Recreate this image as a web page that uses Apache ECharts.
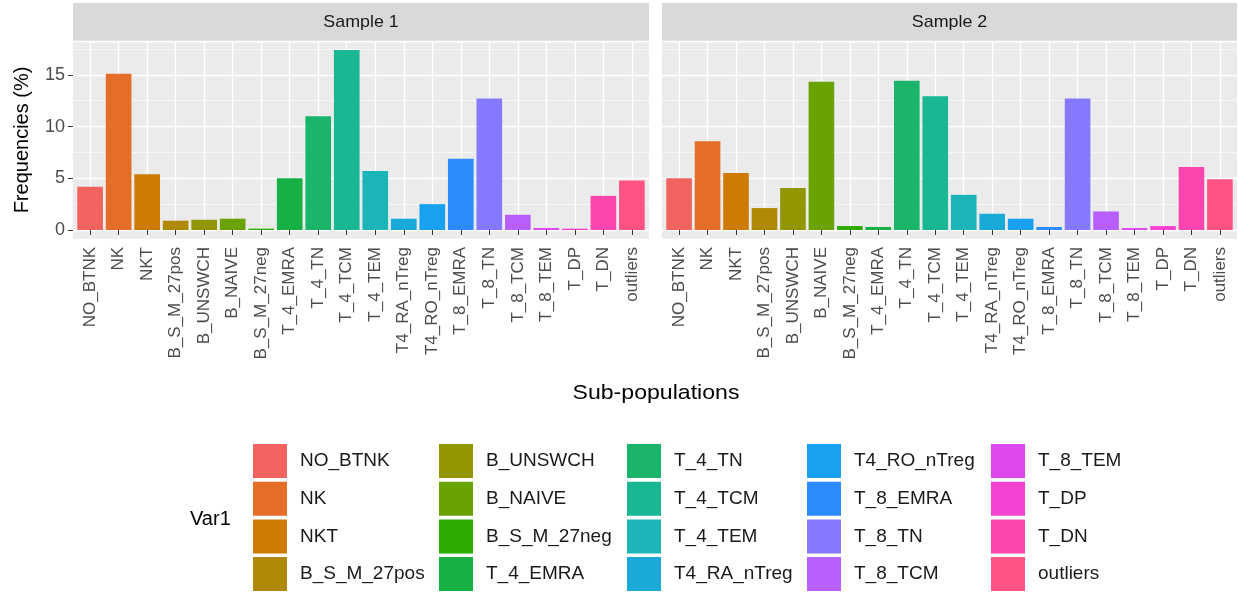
<!DOCTYPE html>
<html><head><meta charset="utf-8">
<script src="https://cdn.jsdelivr.net/npm/echarts@6/dist/echarts.min.js"></script>
<style>html,body{margin:0;padding:0;background:#fff}#c{width:1238px;height:592px}</style>
</head><body><div id="c"></div>
<script>
// ---- data ----
const categories = ['NO_BTNK','NK','NKT','B_S_M_27pos','B_UNSWCH','B_NAIVE','B_S_M_27neg','T_4_EMRA','T_4_TN','T_4_TCM','T_4_TEM','T4_RA_nTreg','T4_RO_nTreg','T_8_EMRA','T_8_TN','T_8_TCM','T_8_TEM','T_DP','T_DN','outliers'];
const sample1 = [4.17, 15.1, 5.38, 0.9, 0.99, 1.09, 0.13, 5.0, 11.0, 17.4, 5.7, 1.09, 2.5, 6.89, 12.72, 1.47, 0.19, 0.13, 3.3, 4.78];
const sample2 = [5.0, 8.59, 5.51, 2.12, 4.07, 14.33, 0.38, 0.29, 14.42, 12.92, 3.4, 1.57, 1.09, 0.29, 12.72, 1.79, 0.19, 0.38, 6.09, 4.9];
const facetNames = ['Sample 1', 'Sample 2'];
const colors = ['#F2625F','#E46D27','#CD7B03','#B08904','#929600','#6AA203','#2EAA00','#17B045','#1AB56B','#19B792','#1BB5B8','#19AAD8','#17A1EF','#2C8CFE','#857AFF','#B75EFD','#DD47EE','#F342D2','#FC45AF','#FF5384'];
const yMin = -0.87, yMax = 18.27;

// ---- layout ----
const FONT = '"Liberation Sans", Arial, sans-serif';
const TOP = 41, H = 198;
const panels = [{left: 73, width: 576}, {left: 662, width: 575}];
const values = [sample1, sample2];

const grids = [], xAxes = [], yAxes = [], series = [], graphics = [];
panels.forEach((p, s) => {
  const unit = p.width / 20.2;
  grids.push({left: p.left, top: TOP, width: p.width, height: H, show: true, backgroundColor: '#EBEBEB', borderWidth: 0, containLabel: false});
  grids.push({left: p.left + 0.1 * unit, top: TOP, width: p.width - 0.2 * unit, height: H, show: false, containLabel: false});
  const go = s * 2, gi = s * 2 + 1;
  xAxes.push({gridIndex: go, type: 'value', min: 0, max: 1, show: false});
  xAxes.push({
    gridIndex: gi, type: 'category', data: categories,
    axisLine: {show: false},
    axisTick: {show: true, alignWithLabel: true, length: 5, lineStyle: {color: '#333333', width: 1}},
    axisLabel: {rotate: 90, margin: 8, fontSize: 17, color: '#4D4D4D', fontFamily: FONT, interval: 0},
    splitLine: {show: true, alignWithLabel: true, lineStyle: {color: '#FFFFFF', width: 1.3}}
  });
  yAxes.push({
    gridIndex: go, type: 'value', min: yMin, max: yMax, splitNumber: 4,
    axisLine: {show: false},
    axisTick: {show: s === 0, length: 5, lineStyle: {color: '#333333', width: 1}},
    axisLabel: {show: s === 0, showMinLabel: false, showMaxLabel: false, fontSize: 18, color: '#4D4D4D', fontFamily: FONT, margin: 8},
    splitLine: {show: true, lineStyle: {color: '#FFFFFF', width: 1.3}},
    minorTick: {show: false, splitNumber: 2},
    minorSplitLine: {show: true, lineStyle: {color: '#FFFFFF', width: 0.6}},
    name: s === 0 ? 'Frequencies (%)' : '', nameLocation: 'middle', nameRotate: 90, nameGap: 41,
    nameTextStyle: {fontSize: 20, color: '#000000', fontFamily: FONT}
  });
  yAxes.push({gridIndex: gi, type: 'value', min: yMin, max: yMax, show: false});
  categories.forEach((c, i) => {
    series.push({
      type: 'bar', name: c, xAxisIndex: gi, yAxisIndex: gi, stack: 'st' + s,
      barWidth: '90%',
      itemStyle: {color: colors[i]},
      emphasis: {disabled: true},
      data: categories.map((cc, j) => j === i ? values[s][i] : '-')
    });
  });
  graphics.push({type: 'rect', left: p.left, top: 3, shape: {width: p.width, height: TOP - 3}, style: {fill: '#D9D9D9'}, z: 0});
  graphics.push({type: 'text', x: p.left + p.width / 2, y: 3 + (TOP - 3) / 2, scaleX: 1.05, style: {text: facetNames[s], fontSize: 17, fill: '#1A1A1A', fontFamily: FONT, align: 'center', verticalAlign: 'middle'}, z: 1});
});

graphics.push({type: 'text', x: 656, y: 393, scaleX: 1.1, style: {text: 'Sub-populations', fontSize: 21, fill: '#000000', fontFamily: FONT, align: 'center', verticalAlign: 'middle'}});
graphics.push({type: 'text', x: 190, y: 519, style: {text: 'Var1', fontSize: 20, fill: '#000000', fontFamily: FONT, align: 'left', verticalAlign: 'middle'}});

// legend: 5 columns of 4 keys
const legendCols = [253, 439, 627, 807, 991];
const legends = legendCols.map((x, k) => ({
  orient: 'vertical', left: x, top: 444, height: 150, padding: 0,
  itemWidth: 34, itemHeight: 34, itemGap: 3.7, icon: 'rect',
  data: categories.slice(k * 4, k * 4 + 4),
  textStyle: {fontSize: 19, color: '#1A1A1A', fontFamily: FONT, padding: [0, 0, 0, 8]}
}));

const chart = echarts.init(document.getElementById('c'), null, {renderer: 'canvas'});
chart.setOption({
  animation: false,
  backgroundColor: '#FFFFFF',
  grid: grids, xAxis: xAxes, yAxis: yAxes, series: series,
  legend: legends,
  graphic: graphics
});
</script></body></html>
